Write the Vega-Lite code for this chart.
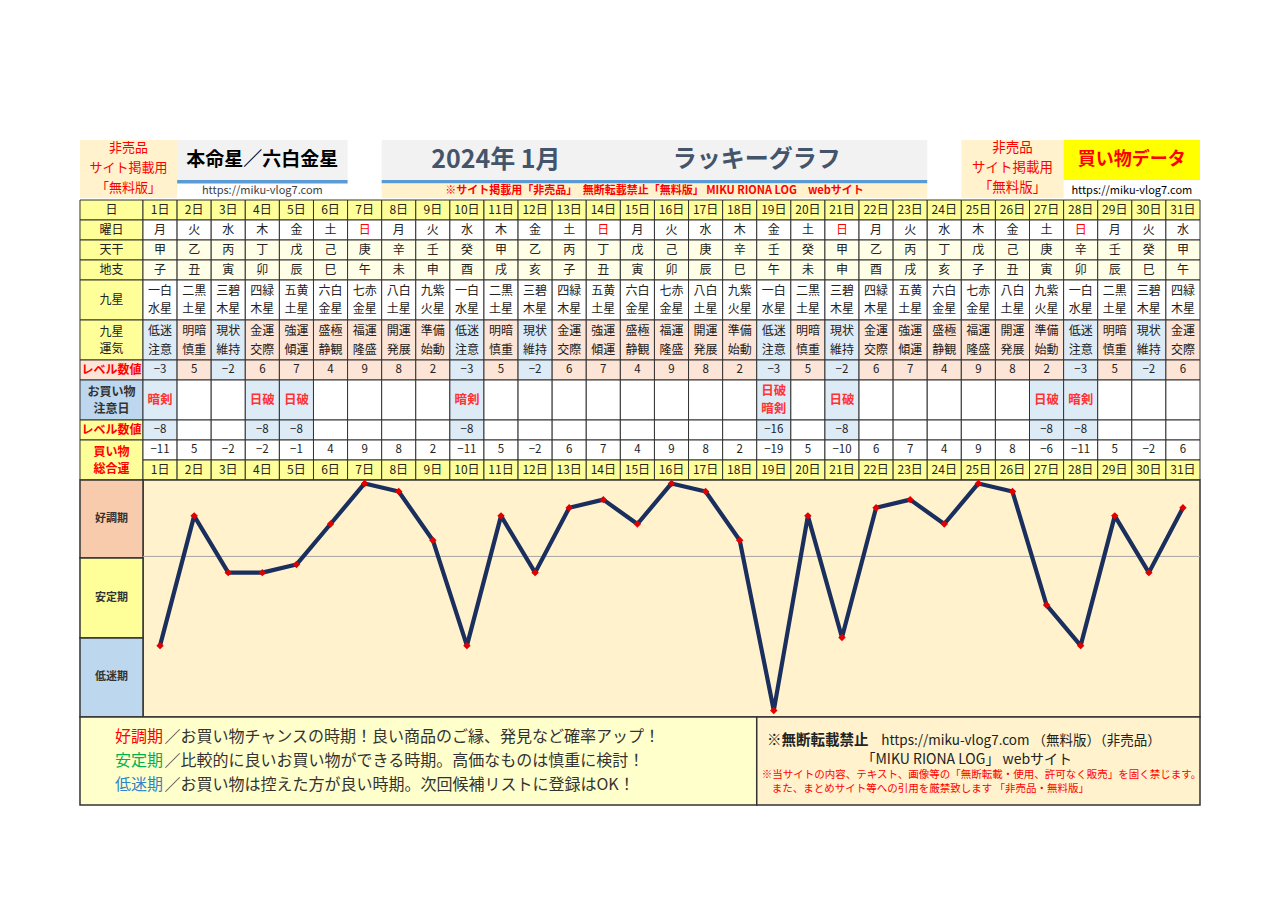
{
 "$schema": "https://vega.github.io/schema/vega-lite/v6.json",
 "width": 1280, "height": 905, "padding": 0, "autosize": {"type": "none"},
 "background": "#FFFFFF",
 "config": {"view": {"stroke": null}, "axis": {"disable": true}, "legend": {"disable": true},
   "text": {"font": "Noto Sans CJK JP", "baseline": "middle", "align": "center"}},
 "datasets": {"days": [
  {"day":1,"dayLabel":"1日","weekday":"月","kan":"甲","shi":"子","star":"一白\n水星","fortune":"低迷\n注意","level":-3,"caution":"暗剣","clevel":-8,"total":-11},
  {"day":2,"dayLabel":"2日","weekday":"火","kan":"乙","shi":"丑","star":"二黒\n土星","fortune":"明暗\n慎重","level":5,"total":5},
  {"day":3,"dayLabel":"3日","weekday":"水","kan":"丙","shi":"寅","star":"三碧\n木星","fortune":"現状\n維持","level":-2,"total":-2},
  {"day":4,"dayLabel":"4日","weekday":"木","kan":"丁","shi":"卯","star":"四緑\n木星","fortune":"金運\n交際","level":6,"caution":"日破","clevel":-8,"total":-2},
  {"day":5,"dayLabel":"5日","weekday":"金","kan":"戊","shi":"辰","star":"五黄\n土星","fortune":"強運\n傾運","level":7,"caution":"日破","clevel":-8,"total":-1},
  {"day":6,"dayLabel":"6日","weekday":"土","kan":"己","shi":"巳","star":"六白\n金星","fortune":"盛極\n静観","level":4,"total":4},
  {"day":7,"dayLabel":"7日","weekday":"日","kan":"庚","shi":"午","star":"七赤\n金星","fortune":"福運\n隆盛","level":9,"total":9},
  {"day":8,"dayLabel":"8日","weekday":"月","kan":"辛","shi":"未","star":"八白\n土星","fortune":"開運\n発展","level":8,"total":8},
  {"day":9,"dayLabel":"9日","weekday":"火","kan":"壬","shi":"申","star":"九紫\n火星","fortune":"準備\n始動","level":2,"total":2},
  {"day":10,"dayLabel":"10日","weekday":"水","kan":"癸","shi":"酉","star":"一白\n水星","fortune":"低迷\n注意","level":-3,"caution":"暗剣","clevel":-8,"total":-11},
  {"day":11,"dayLabel":"11日","weekday":"木","kan":"甲","shi":"戌","star":"二黒\n土星","fortune":"明暗\n慎重","level":5,"total":5},
  {"day":12,"dayLabel":"12日","weekday":"金","kan":"乙","shi":"亥","star":"三碧\n木星","fortune":"現状\n維持","level":-2,"total":-2},
  {"day":13,"dayLabel":"13日","weekday":"土","kan":"丙","shi":"子","star":"四緑\n木星","fortune":"金運\n交際","level":6,"total":6},
  {"day":14,"dayLabel":"14日","weekday":"日","kan":"丁","shi":"丑","star":"五黄\n土星","fortune":"強運\n傾運","level":7,"total":7},
  {"day":15,"dayLabel":"15日","weekday":"月","kan":"戊","shi":"寅","star":"六白\n金星","fortune":"盛極\n静観","level":4,"total":4},
  {"day":16,"dayLabel":"16日","weekday":"火","kan":"己","shi":"卯","star":"七赤\n金星","fortune":"福運\n隆盛","level":9,"total":9},
  {"day":17,"dayLabel":"17日","weekday":"水","kan":"庚","shi":"辰","star":"八白\n土星","fortune":"開運\n発展","level":8,"total":8},
  {"day":18,"dayLabel":"18日","weekday":"木","kan":"辛","shi":"巳","star":"九紫\n火星","fortune":"準備\n始動","level":2,"total":2},
  {"day":19,"dayLabel":"19日","weekday":"金","kan":"壬","shi":"午","star":"一白\n水星","fortune":"低迷\n注意","level":-3,"caution":"日破\n暗剣","clevel":-16,"total":-19},
  {"day":20,"dayLabel":"20日","weekday":"土","kan":"癸","shi":"未","star":"二黒\n土星","fortune":"明暗\n慎重","level":5,"total":5},
  {"day":21,"dayLabel":"21日","weekday":"日","kan":"甲","shi":"申","star":"三碧\n木星","fortune":"現状\n維持","level":-2,"caution":"日破","clevel":-8,"total":-10},
  {"day":22,"dayLabel":"22日","weekday":"月","kan":"乙","shi":"酉","star":"四緑\n木星","fortune":"金運\n交際","level":6,"total":6},
  {"day":23,"dayLabel":"23日","weekday":"火","kan":"丙","shi":"戌","star":"五黄\n土星","fortune":"強運\n傾運","level":7,"total":7},
  {"day":24,"dayLabel":"24日","weekday":"水","kan":"丁","shi":"亥","star":"六白\n金星","fortune":"盛極\n静観","level":4,"total":4},
  {"day":25,"dayLabel":"25日","weekday":"木","kan":"戊","shi":"子","star":"七赤\n金星","fortune":"福運\n隆盛","level":9,"total":9},
  {"day":26,"dayLabel":"26日","weekday":"金","kan":"己","shi":"丑","star":"八白\n土星","fortune":"開運\n発展","level":8,"total":8},
  {"day":27,"dayLabel":"27日","weekday":"土","kan":"庚","shi":"寅","star":"九紫\n火星","fortune":"準備\n始動","level":2,"caution":"日破","clevel":-8,"total":-6},
  {"day":28,"dayLabel":"28日","weekday":"日","kan":"辛","shi":"卯","star":"一白\n水星","fortune":"低迷\n注意","level":-3,"caution":"暗剣","clevel":-8,"total":-11},
  {"day":29,"dayLabel":"29日","weekday":"月","kan":"壬","shi":"辰","star":"二黒\n土星","fortune":"明暗\n慎重","level":5,"total":5},
  {"day":30,"dayLabel":"30日","weekday":"火","kan":"癸","shi":"巳","star":"三碧\n木星","fortune":"現状\n維持","level":-2,"total":-2},
  {"day":31,"dayLabel":"31日","weekday":"水","kan":"甲","shi":"午","star":"四緑\n木星","fortune":"金運\n交際","level":6,"total":6}
 ]},
 "data": {"name": "days"},
 "resolve": {"scale": {"y": "independent"}},
 "layer": [
  {"layer": [
   {"data":{"values":[{}]},"mark":{"type":"rect","fill":"#FFF2CC"},"encoding":{"x":{"datum":-1.348,"scale":{"domain":[0.5,31.5],"range":[143,1200],"nice":false,"zero":false,"padding":0}},"x2":{"datum":1.5},"y":{"datum":-3,"scale":{"domain":[-10,35.25],"range":[0,905],"nice":false,"zero":false,"padding":0}},"y2":{"datum":-0.1}}},
   {"data":{"values":[{}]},"mark":{"type":"text","text":"非売品","fontSize":13,"color":"#FF0000"},"encoding":{"x":{"datum":0.076},"y":{"datum":-2.6}}},
   {"data":{"values":[{}]},"mark":{"type":"text","text":"サイト掲載用","fontSize":13,"color":"#FF0000"},"encoding":{"x":{"datum":0.076},"y":{"datum":-1.6}}},
   {"data":{"values":[{}]},"mark":{"type":"text","text":"「無料版」","fontSize":13,"color":"#FF0000"},"encoding":{"x":{"datum":0.076},"y":{"datum":-0.6}}},
   {"data":{"values":[{}]},"mark":{"type":"rect","fill":"#F2F2F2"},"encoding":{"x":{"datum":1.5},"x2":{"datum":6.5},"y":{"datum":-3},"y2":{"datum":-1}}},
   {"data":{"values":[{}]},"mark":{"type":"rect","fill":"#5B9BD5"},"encoding":{"x":{"datum":1.5},"x2":{"datum":6.5},"y":{"datum":-1},"y2":{"datum":-0.82}}},
   {"data":{"values":[{}]},"mark":{"type":"text","text":"本命星／六白金星","fontSize":19,"fontWeight":"bold","color":"#000000"},"encoding":{"x":{"datum":4.0},"y":{"datum":-2.0}}},
   {"data":{"values":[{}]},"mark":{"type":"text","text":"https://miku-vlog7.com","fontSize":11,"color":"#404040"},"encoding":{"x":{"datum":4.0},"y":{"datum":-0.45}}},
   {"data":{"values":[{}]},"mark":{"type":"rect","fill":"#F2F2F2"},"encoding":{"x":{"datum":7.5},"x2":{"datum":23.5},"y":{"datum":-3},"y2":{"datum":-1}}},
   {"data":{"values":[{}]},"mark":{"type":"rect","fill":"#5B9BD5"},"encoding":{"x":{"datum":7.5},"x2":{"datum":23.5},"y":{"datum":-1},"y2":{"datum":-0.82}}},
   {"data":{"values":[{}]},"mark":{"type":"rect","fill":"#FFF2CC"},"encoding":{"x":{"datum":7.5},"x2":{"datum":23.5},"y":{"datum":-0.82},"y2":{"datum":-0.1}}},
   {"data":{"values":[{}]},"mark":{"type":"text","text":"2024年 1月","fontSize":25,"fontWeight":"bold","color":"#44546A"},"encoding":{"x":{"datum":10.85},"y":{"datum":-2.0}}},
   {"data":{"values":[{}]},"mark":{"type":"text","text":"ラッキーグラフ","fontSize":24,"fontWeight":"bold","color":"#44546A"},"encoding":{"x":{"datum":18.5},"y":{"datum":-2.0}}},
   {"data":{"values":[{}]},"mark":{"type":"text","text":"※サイト掲載用「非売品」　無断転載禁止「無料版」 MIKU RIONA LOG　webサイト","fontSize":11,"fontWeight":"bold","color":"#FF0000"},"encoding":{"x":{"datum":15.5},"y":{"datum":-0.45}}},
   {"data":{"values":[{}]},"mark":{"type":"rect","fill":"#FFF2CC"},"encoding":{"x":{"datum":24.5},"x2":{"datum":27.5},"y":{"datum":-3},"y2":{"datum":-0.1}}},
   {"data":{"values":[{}]},"mark":{"type":"text","text":"非売品","fontSize":13.5,"color":"#FF0000"},"encoding":{"x":{"datum":26.0},"y":{"datum":-2.6}}},
   {"data":{"values":[{}]},"mark":{"type":"text","text":"サイト掲載用","fontSize":13.5,"color":"#FF0000"},"encoding":{"x":{"datum":26.0},"y":{"datum":-1.6}}},
   {"data":{"values":[{}]},"mark":{"type":"text","text":"「無料版」","fontSize":13.5,"color":"#FF0000"},"encoding":{"x":{"datum":26.0},"y":{"datum":-0.6}}},
   {"data":{"values":[{}]},"mark":{"type":"rect","fill":"#FFFF00"},"encoding":{"x":{"datum":27.5},"x2":{"datum":31.5},"y":{"datum":-3},"y2":{"datum":-1}}},
   {"data":{"values":[{}]},"mark":{"type":"text","text":"買い物データ","fontSize":18,"fontWeight":"bold","color":"#FF0000"},"encoding":{"x":{"datum":29.5},"y":{"datum":-2.0}}},
   {"data":{"values":[{}]},"mark":{"type":"text","text":"https://miku-vlog7.com","fontSize":11,"color":"#000000"},"encoding":{"x":{"datum":29.5},"y":{"datum":-0.45}}},

   {"data":{"values":[{}]},"mark":{"type":"rect","fill":"#FFFF99","stroke":"#333333","strokeWidth":1},"encoding":{"x":{"datum":-1.348},"x2":{"datum":0.5},"y":{"datum":0},"y2":{"datum":1}}},
   {"data":{"values":[{}]},"mark":{"type":"rect","fill":"#FFFF99","stroke":"#333333","strokeWidth":1},"encoding":{"x":{"datum":-1.348},"x2":{"datum":0.5},"y":{"datum":1},"y2":{"datum":2}}},
   {"data":{"values":[{}]},"mark":{"type":"rect","fill":"#FFFF99","stroke":"#333333","strokeWidth":1},"encoding":{"x":{"datum":-1.348},"x2":{"datum":0.5},"y":{"datum":2},"y2":{"datum":3}}},
   {"data":{"values":[{}]},"mark":{"type":"rect","fill":"#FFFF99","stroke":"#333333","strokeWidth":1},"encoding":{"x":{"datum":-1.348},"x2":{"datum":0.5},"y":{"datum":3},"y2":{"datum":4}}},
   {"data":{"values":[{}]},"mark":{"type":"rect","fill":"#FFFF99","stroke":"#333333","strokeWidth":1},"encoding":{"x":{"datum":-1.348},"x2":{"datum":0.5},"y":{"datum":4},"y2":{"datum":6}}},
   {"data":{"values":[{}]},"mark":{"type":"rect","fill":"#FFFF99","stroke":"#333333","strokeWidth":1},"encoding":{"x":{"datum":-1.348},"x2":{"datum":0.5},"y":{"datum":6},"y2":{"datum":8}}},
   {"data":{"values":[{}]},"mark":{"type":"rect","fill":"#FCE4D6","stroke":"#333333","strokeWidth":1},"encoding":{"x":{"datum":-1.348},"x2":{"datum":0.5},"y":{"datum":8},"y2":{"datum":9}}},
   {"data":{"values":[{}]},"mark":{"type":"rect","fill":"#BDD7EE","stroke":"#333333","strokeWidth":1},"encoding":{"x":{"datum":-1.348},"x2":{"datum":0.5},"y":{"datum":9},"y2":{"datum":11}}},
   {"data":{"values":[{}]},"mark":{"type":"rect","fill":"#FFFF99","stroke":"#333333","strokeWidth":1},"encoding":{"x":{"datum":-1.348},"x2":{"datum":0.5},"y":{"datum":11},"y2":{"datum":12}}},
   {"data":{"values":[{}]},"mark":{"type":"rect","fill":"#FFFF99","stroke":"#333333","strokeWidth":1},"encoding":{"x":{"datum":-1.348},"x2":{"datum":0.5},"y":{"datum":12},"y2":{"datum":14}}},
   {"data":{"values":[{}]},"mark":{"type":"text","text":"日","fontSize":12,"color":"#222222"},"encoding":{"x":{"datum":-0.424},"y":{"datum":0.5}}},
   {"data":{"values":[{}]},"mark":{"type":"text","text":"曜日","fontSize":12,"color":"#222222"},"encoding":{"x":{"datum":-0.424},"y":{"datum":1.5}}},
   {"data":{"values":[{}]},"mark":{"type":"text","text":"天干","fontSize":12,"color":"#222222"},"encoding":{"x":{"datum":-0.424},"y":{"datum":2.5}}},
   {"data":{"values":[{}]},"mark":{"type":"text","text":"地支","fontSize":12,"color":"#222222"},"encoding":{"x":{"datum":-0.424},"y":{"datum":3.5}}},
   {"data":{"values":[{}]},"mark":{"type":"text","text":"九星","fontSize":12,"color":"#222222"},"encoding":{"x":{"datum":-0.424},"y":{"datum":5}}},
   {"data":{"values":[{}]},"mark":{"type":"text","text":"九星\n運気","lineBreak":"\n","lineHeight":17,"fontSize":12,"color":"#222222"},"encoding":{"x":{"datum":-0.424},"y":{"datum":6.575}}},
   {"data":{"values":[{}]},"mark":{"type":"text","text":"レベル数値","fontSize":12,"fontWeight":"bold","color":"#FF0000"},"encoding":{"x":{"datum":-0.424},"y":{"datum":8.5}}},
   {"data":{"values":[{}]},"mark":{"type":"text","text":"お買い物\n注意日","lineBreak":"\n","lineHeight":17,"fontSize":12,"fontWeight":"bold","color":"#333333"},"encoding":{"x":{"datum":-0.424},"y":{"datum":9.575}}},
   {"data":{"values":[{}]},"mark":{"type":"text","text":"レベル数値","fontSize":12,"fontWeight":"bold","color":"#FF0000"},"encoding":{"x":{"datum":-0.424},"y":{"datum":11.5}}},
   {"data":{"values":[{}]},"mark":{"type":"text","text":"買い物\n総合運","lineBreak":"\n","lineHeight":17,"fontSize":12,"fontWeight":"bold","color":"#FF0000"},"encoding":{"x":{"datum":-0.424},"y":{"datum":12.575}}},

   {"mark":{"type":"bar","orient":"vertical","size":34.1,"fill":"#FFFF99","stroke":"#333333","strokeWidth":1},"encoding":{"x":{"field":"day","type":"quantitative"},"y":{"datum":0},"y2":{"datum":1}}},
   {"mark":{"type":"text","fontSize":12,"color":"#222222"},"encoding":{"x":{"field":"day","type":"quantitative"},"y":{"datum":0.5},"text":{"field":"dayLabel"}}},
   {"mark":{"type":"bar","orient":"vertical","size":34.1,"fill":"#FFFFFF","stroke":"#333333","strokeWidth":1},"encoding":{"x":{"field":"day","type":"quantitative"},"y":{"datum":1},"y2":{"datum":2}}},
   {"mark":{"type":"text","fontSize":12},"encoding":{"x":{"field":"day","type":"quantitative"},"y":{"datum":1.5},"text":{"field":"weekday"},"color":{"condition":{"test":"datum.weekday === '日'","value":"#FF0000"},"value":"#222222"}}},
   {"mark":{"type":"bar","orient":"vertical","size":34.1,"fill":"#FFFFE8","stroke":"#333333","strokeWidth":1},"encoding":{"x":{"field":"day","type":"quantitative"},"y":{"datum":2},"y2":{"datum":3}}},
   {"mark":{"type":"text","fontSize":12,"color":"#222222"},"encoding":{"x":{"field":"day","type":"quantitative"},"y":{"datum":2.5},"text":{"field":"kan"}}},
   {"mark":{"type":"bar","orient":"vertical","size":34.1,"fill":"#FFFFE8","stroke":"#333333","strokeWidth":1},"encoding":{"x":{"field":"day","type":"quantitative"},"y":{"datum":3},"y2":{"datum":4}}},
   {"mark":{"type":"text","fontSize":12,"color":"#222222"},"encoding":{"x":{"field":"day","type":"quantitative"},"y":{"datum":3.5},"text":{"field":"shi"}}},
   {"mark":{"type":"bar","orient":"vertical","size":34.1,"fill":"#FFFFFF","stroke":"#333333","strokeWidth":1},"encoding":{"x":{"field":"day","type":"quantitative"},"y":{"datum":4},"y2":{"datum":6}}},
   {"mark":{"type":"text","fontSize":12,"color":"#222222","lineBreak":"\n","lineHeight":18},"encoding":{"x":{"field":"day","type":"quantitative"},"y":{"datum":4.55},"text":{"field":"star"}}},
   {"mark":{"type":"bar","orient":"vertical","size":34.1,"stroke":"#333333","strokeWidth":1},"encoding":{"x":{"field":"day","type":"quantitative"},"y":{"datum":6},"y2":{"datum":8},"fill":{"condition":{"test":"datum.level < 0","value":"#DDEBF7"},"value":"#FCE4D6"}}},
   {"mark":{"type":"text","fontSize":12,"color":"#222222","lineBreak":"\n","lineHeight":19},"encoding":{"x":{"field":"day","type":"quantitative"},"y":{"datum":6.525},"text":{"field":"fortune"}}},
   {"mark":{"type":"bar","orient":"vertical","size":34.1,"stroke":"#333333","strokeWidth":1},"encoding":{"x":{"field":"day","type":"quantitative"},"y":{"datum":8},"y2":{"datum":9},"fill":{"condition":{"test":"datum.level < 0","value":"#DDEBF7"},"value":"#FCE4D6"}}},
   {"mark":{"type":"text","fontSize":11.5,"color":"#222222"},"encoding":{"x":{"field":"day","type":"quantitative"},"y":{"datum":8.5},"text":{"field":"level","type":"quantitative"}}},
   {"mark":{"type":"bar","orient":"vertical","size":34.1,"stroke":"#333333","strokeWidth":1},"encoding":{"x":{"field":"day","type":"quantitative"},"y":{"datum":9},"y2":{"datum":11},"fill":{"condition":{"test":"isValid(datum.caution)","value":"#DDEBF7"},"value":"#FFFFFF"}}},
   {"transform":[{"filter":"isValid(datum.caution) && length(datum.caution) <= 2"}],"mark":{"type":"text","fontSize":12.5,"fontWeight":"bold","color":"#FF3333"},"encoding":{"x":{"field":"day","type":"quantitative"},"y":{"datum":10},"text":{"field":"caution"}}},
   {"transform":[{"filter":"isValid(datum.caution) && length(datum.caution) > 2"}],"mark":{"type":"text","fontSize":12.5,"fontWeight":"bold","color":"#FF3333","lineBreak":"\n","lineHeight":18},"encoding":{"x":{"field":"day","type":"quantitative"},"y":{"datum":9.55},"text":{"field":"caution"}}},
   {"mark":{"type":"bar","orient":"vertical","size":34.1,"stroke":"#333333","strokeWidth":1},"encoding":{"x":{"field":"day","type":"quantitative"},"y":{"datum":11},"y2":{"datum":12},"fill":{"condition":{"test":"isValid(datum.caution)","value":"#DDEBF7"},"value":"#FFFFFF"}}},
   {"transform":[{"filter":"isValid(datum.clevel)"}],"mark":{"type":"text","fontSize":11.5,"color":"#222222"},"encoding":{"x":{"field":"day","type":"quantitative"},"y":{"datum":11.5},"text":{"field":"clevel","type":"quantitative"}}},
   {"mark":{"type":"bar","orient":"vertical","size":34.1,"fill":"#FFFFFF","stroke":"#333333","strokeWidth":1},"encoding":{"x":{"field":"day","type":"quantitative"},"y":{"datum":12},"y2":{"datum":13}}},
   {"mark":{"type":"text","fontSize":11.5,"color":"#222222"},"encoding":{"x":{"field":"day","type":"quantitative"},"y":{"datum":12.5},"text":{"field":"total","type":"quantitative"}}},
   {"mark":{"type":"bar","orient":"vertical","size":34.1,"fill":"#FFFF99","stroke":"#333333","strokeWidth":1},"encoding":{"x":{"field":"day","type":"quantitative"},"y":{"datum":13},"y2":{"datum":14}}},
   {"mark":{"type":"text","fontSize":12,"color":"#222222"},"encoding":{"x":{"field":"day","type":"quantitative"},"y":{"datum":13.5},"text":{"field":"dayLabel"}}},

   {"data":{"values":[{}]},"mark":{"type":"rect","fill":"#FFF2CC","stroke":"#333333","strokeWidth":1.5},"encoding":{"x":{"datum":0.5},"x2":{"datum":31.5},"y":{"datum":14},"y2":{"datum":25.85}}},
   {"data":{"values":[{}]},"mark":{"type":"rect","fill":"#F8CBAD","stroke":"#333333","strokeWidth":1.5},"encoding":{"x":{"datum":-1.348},"x2":{"datum":0.5},"y":{"datum":14},"y2":{"datum":17.9}}},
   {"data":{"values":[{}]},"mark":{"type":"rect","fill":"#FFFF99","stroke":"#333333","strokeWidth":1.5},"encoding":{"x":{"datum":-1.348},"x2":{"datum":0.5},"y":{"datum":17.9},"y2":{"datum":21.9}}},
   {"data":{"values":[{}]},"mark":{"type":"rect","fill":"#BDD7EE","stroke":"#333333","strokeWidth":1.5},"encoding":{"x":{"datum":-1.348},"x2":{"datum":0.5},"y":{"datum":21.9},"y2":{"datum":25.85}}},
   {"data":{"values":[{}]},"mark":{"type":"text","text":"好調期","fontSize":11,"fontWeight":"bold","color":"#333333"},"encoding":{"x":{"datum":-0.424},"y":{"datum":15.95}}},
   {"data":{"values":[{}]},"mark":{"type":"text","text":"安定期","fontSize":11,"fontWeight":"bold","color":"#333333"},"encoding":{"x":{"datum":-0.424},"y":{"datum":19.9}}},
   {"data":{"values":[{}]},"mark":{"type":"text","text":"低迷期","fontSize":11,"fontWeight":"bold","color":"#333333"},"encoding":{"x":{"datum":-0.424},"y":{"datum":23.85}}},

   {"data":{"values":[{}]},"mark":{"type":"rect","fill":"#FFFFCC","stroke":"#333333","strokeWidth":1.5},"encoding":{"x":{"datum":-1.348},"x2":{"datum":18.5},"y":{"datum":25.85},"y2":{"datum":30.25}}},
   {"data":{"values":[{}]},"mark":{"type":"rect","fill":"#FFF2CC","stroke":"#333333","strokeWidth":1.5},"encoding":{"x":{"datum":18.5},"x2":{"datum":31.5},"y":{"datum":25.85},"y2":{"datum":30.25}}},
   {"data":{"values":[{}]},"mark":{"type":"text","text":"好調期","fontSize":16,"align":"left","color":"#FF0000"},"encoding":{"x":{"datum":-0.32},"y":{"datum":26.85}}},
   {"data":{"values":[{}]},"mark":{"type":"text","text":"／お買い物チャンスの時期！良い商品のご縁、発見など確率アップ！","fontSize":16,"align":"left","color":"#333333"},"encoding":{"x":{"datum":1.13},"y":{"datum":26.85}}},
   {"data":{"values":[{}]},"mark":{"type":"text","text":"安定期","fontSize":16,"align":"left","color":"#00B050"},"encoding":{"x":{"datum":-0.32},"y":{"datum":28.05}}},
   {"data":{"values":[{}]},"mark":{"type":"text","text":"／比較的に良いお買い物ができる時期。高価なものは慎重に検討！","fontSize":16,"align":"left","color":"#333333"},"encoding":{"x":{"datum":1.13},"y":{"datum":28.05}}},
   {"data":{"values":[{}]},"mark":{"type":"text","text":"低迷期","fontSize":16,"align":"left","color":"#2E86C8"},"encoding":{"x":{"datum":-0.32},"y":{"datum":29.25}}},
   {"data":{"values":[{}]},"mark":{"type":"text","text":"／お買い物は控えた方が良い時期。次回候補リストに登録はOK！","fontSize":16,"align":"left","color":"#333333"},"encoding":{"x":{"datum":1.13},"y":{"datum":29.25}}},
   {"data":{"values":[{}]},"mark":{"type":"text","text":"※無断転載禁止","fontSize":14.5,"fontWeight":"bold","align":"left","color":"#222222"},"encoding":{"x":{"datum":18.8},"y":{"datum":27.05}}},
   {"data":{"values":[{}]},"mark":{"type":"text","text":"https://miku-vlog7.com （無料版）（非売品）","fontSize":13.5,"align":"left","color":"#222222"},"encoding":{"x":{"datum":22.15},"y":{"datum":27.05}}},
   {"data":{"values":[{}]},"mark":{"type":"text","text":"「MIKU RIONA LOG」 webサイト","fontSize":14,"color":"#222222"},"encoding":{"x":{"datum":24.66},"y":{"datum":28.0}}},
   {"data":{"values":[{}]},"mark":{"type":"text","text":"※当サイトの内容、テキスト、画像等の「無断転載・使用、許可なく販売」を固く禁じます。","fontSize":10.5,"align":"left","color":"#FF0000"},"encoding":{"x":{"datum":18.65},"y":{"datum":28.75}}},
   {"data":{"values":[{}]},"mark":{"type":"text","text":"また、まとめサイト等への引用を厳禁致します 「非売品・無料版」","fontSize":10.5,"align":"left","color":"#FF0000"},"encoding":{"x":{"datum":18.94},"y":{"datum":29.45}}}
  ]},
  {"layer": [
   {"data":{"values":[{}]},"mark":{"type":"rule","color":"#A6A6A6","strokeWidth":1},"encoding":{"x":{"datum":0.5},"x2":{"datum":31.5},"y":{"datum":0}}},
   {"mark":{"type":"line","color":"#1B2F5E","strokeWidth":4.2,"strokeJoin":"round"},"encoding":{"x":{"field":"day","type":"quantitative"},"y":{"field":"total","type":"quantitative","scale":{"domain":[-19.8,9.3],"range":[717,481],"nice":false,"zero":false}}}},
   {"mark":{"type":"point","shape":"diamond","filled":true,"color":"#E00000","size":55,"opacity":1},"encoding":{"x":{"field":"day","type":"quantitative"},"y":{"field":"total","type":"quantitative"}}}
  ]}
 ]
}
